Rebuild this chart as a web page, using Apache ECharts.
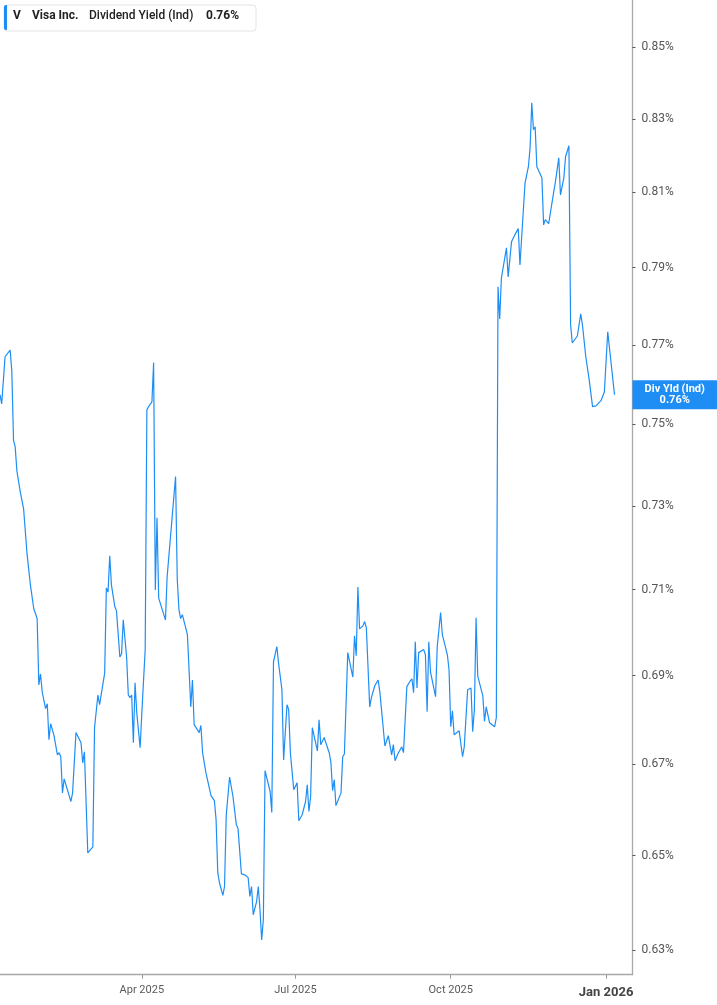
<!DOCTYPE html>
<html>
<head>
<meta charset="utf-8">
<script src="https://cdn.jsdelivr.net/npm/echarts@6/dist/echarts.min.js"></script>
<style>
html,body{margin:0;padding:0;background:#fff;}
#chart{width:717px;height:1005px;}
</style>
</head>
<body>
<div id="chart"></div>
<script>
// ---- data (dividend yield, %) ----
const dates = [
'2025-01-07','2025-01-08','2025-01-10','2025-01-13','2025-01-14','2025-01-15','2025-01-16','2025-01-17','2025-01-19','2025-01-21',
'2025-01-22','2025-01-23','2025-01-25','2025-01-27','2025-01-28','2025-01-29','2025-01-30','2025-01-31','2025-02-01','2025-02-03',
'2025-02-04','2025-02-05','2025-02-06','2025-02-08','2025-02-10','2025-02-11','2025-02-12','2025-02-13','2025-02-14','2025-02-18',
'2025-02-19','2025-02-21','2025-02-24','2025-02-25','2025-02-26','2025-02-28','2025-03-03','2025-03-04','2025-03-05','2025-03-06',
'2025-03-07','2025-03-10','2025-03-11','2025-03-12','2025-03-13','2025-03-14','2025-03-16','2025-03-17','2025-03-18','2025-03-19',
'2025-03-20','2025-03-21','2025-03-23','2025-03-24','2025-03-25','2025-03-26','2025-03-27','2025-03-28','2025-03-29','2025-03-31',
'2025-04-01','2025-04-02','2025-04-03','2025-04-04','2025-04-05','2025-04-07','2025-04-08','2025-04-09','2025-04-10','2025-04-11',
'2025-04-15','2025-04-16','2025-04-21','2025-04-22','2025-04-23','2025-04-24','2025-04-25','2025-04-28','2025-04-29','2025-04-30',
'2025-05-01','2025-05-02','2025-05-05','2025-05-06','2025-05-07','2025-05-09','2025-05-12','2025-05-14','2025-05-15','2025-05-16',
'2025-05-17','2025-05-19','2025-05-20','2025-05-21','2025-05-22','2025-05-23','2025-05-25','2025-05-27','2025-05-28','2025-05-30',
'2025-06-01','2025-06-03','2025-06-04','2025-06-05','2025-06-06','2025-06-08','2025-06-09','2025-06-10','2025-06-11','2025-06-12',
'2025-06-13','2025-06-16','2025-06-17','2025-06-18','2025-06-20','2025-06-21','2025-06-23','2025-06-24','2025-06-26','2025-06-27',
'2025-06-28','2025-06-30','2025-07-01','2025-07-02','2025-07-03','2025-07-05','2025-07-07','2025-07-08','2025-07-09','2025-07-10',
'2025-07-11','2025-07-14','2025-07-15','2025-07-16','2025-07-18','2025-07-21','2025-07-22','2025-07-23','2025-07-24','2025-07-25',
'2025-07-28','2025-07-29','2025-07-30','2025-08-01','2025-08-04','2025-08-05','2025-08-06','2025-08-07','2025-08-08','2025-08-10',
'2025-08-11','2025-08-12','2025-08-14','2025-08-15','2025-08-17','2025-08-19','2025-08-20','2025-08-21','2025-08-23','2025-08-25',
'2025-08-27','2025-08-28','2025-08-29','2025-08-31','2025-09-02','2025-09-03','2025-09-04','2025-09-05','2025-09-07','2025-09-08',
'2025-09-09','2025-09-10','2025-09-11','2025-09-12','2025-09-15','2025-09-16','2025-09-17','2025-09-18','2025-09-19','2025-09-22',
'2025-09-23','2025-09-24','2025-09-25','2025-09-26','2025-09-29','2025-09-30','2025-10-01','2025-10-02','2025-10-03','2025-10-06',
'2025-10-08','2025-10-09','2025-10-11','2025-10-13','2025-10-14','2025-10-15','2025-10-16','2025-10-17','2025-10-20','2025-10-21',
'2025-10-22','2025-10-24','2025-10-27','2025-10-28','2025-10-29','2025-10-30','2025-10-31','2025-11-03','2025-11-04','2025-11-05',
'2025-11-06','2025-11-08','2025-11-10','2025-11-11','2025-11-12','2025-11-14','2025-11-16','2025-11-17','2025-11-18','2025-11-19',
'2025-11-20','2025-11-21','2025-11-24','2025-11-25','2025-11-26','2025-11-28','2025-12-01','2025-12-02','2025-12-03','2025-12-04',
'2025-12-05','2025-12-07','2025-12-08','2025-12-10','2025-12-11','2025-12-12','2025-12-15','2025-12-17','2025-12-18','2025-12-20',
'2025-12-22','2025-12-24','2025-12-26','2025-12-29','2025-12-31','2026-01-02','2026-01-06'
];
const yieldValues = [
0.7574,0.7551,0.7670,0.7687,0.7634,0.7461,0.7444,0.7385,0.7334,0.7292,
0.7292,0.7185,0.7111,0.7055,0.7055,0.7032,0.6879,0.6904,0.6863,0.6825,
0.6836,0.6755,0.6791,0.6764,0.6721,0.6726,0.6717,0.6637,0.6668,0.6618,
0.6637,0.6771,0.6748,0.6703,0.6728,0.6506,0.6519,0.6782,0.6780,0.6856,
0.6834,0.6906,0.7104,0.7094,0.7180,0.7111,0.7060,0.7050,0.7048,0.6943,
0.6950,0.7029,0.6943,0.6856,0.6850,0.6856,0.6748,0.6884,0.6816,0.6737,
0.6814,0.6816,0.6960,0.7536,0.7544,0.7556,0.7655,0.7099,0.7271,0.7080,
0.7029,0.7130,0.7371,0.7123,0.7053,0.7032,0.7041,0.6995,0.6913,0.6829,
0.6890,0.6789,0.6771,0.6787,0.6726,0.6681,0.6631,0.6620,0.6578,0.6463,
0.6442,0.6415,0.6434,0.6587,0.6591,0.6672,0.6629,0.6567,0.6559,0.6461,
0.6459,0.6453,0.6413,0.6434,0.6374,0.6402,0.6434,0.6385,0.6321,0.6364,
0.6686,0.6640,0.6594,0.6932,0.6967,0.6929,0.6868,0.6710,0.6834,0.6823,
0.6726,0.6644,0.6640,0.6659,0.6576,0.6589,0.6618,0.6655,0.6596,0.6629,
0.6782,0.6730,0.6800,0.6744,0.6760,0.6726,0.6705,0.6642,0.6666,0.6609,
0.6637,0.6717,0.6723,0.6953,0.6897,0.6992,0.6946,0.7106,0.7008,0.7015,
0.7025,0.7011,0.6829,0.6850,0.6877,0.6890,0.6863,0.6865,0.6741,0.6764,
0.6721,0.6744,0.6708,0.6726,0.6739,0.6726,0.6723,0.6875,0.6888,0.6893,
0.6861,0.6978,0.6872,0.6953,0.6960,0.6948,0.6818,0.6978,0.6909,0.6852,
0.6967,0.6969,0.7046,0.6995,0.6948,0.6913,0.6784,0.6820,0.6766,0.6775,
0.6717,0.6739,0.6868,0.6872,0.6773,0.6823,0.7034,0.6899,0.6854,0.6796,
0.6829,0.6793,0.6784,0.6805,0.7850,0.7767,0.7873,0.7952,0.7876,0.7881,
0.7968,0.7987,0.8003,0.7907,0.7910,0.8125,0.8169,0.8221,0.8344,0.8270,
0.8278,0.8169,0.8139,0.8013,0.8027,0.8016,0.8101,0.8128,0.8131,0.8193,
0.8093,0.8139,0.8196,0.8226,0.7752,0.7705,0.7723,0.7780,0.7752,0.7670,
0.7612,0.7544,0.7546,0.7559,0.7581,0.7734,0.7574
];
const yTickValues = [0.63,0.65,0.67,0.69,0.71,0.73,0.75,0.77,0.79,0.81,0.83,0.85];
const xTickDates = ['2025-04-01','2025-07-01','2025-10-01','2026-01-01'];
const xTickLabels = ['Apr 2025','Jul 2025','Oct 2025','Jan 2026'];
const yRange = [0.62485, 0.86335];
const xRange = ['2025-01-07 00:00','2026-01-16 16:00'];
const legendTicker = 'V';
const legendCompany = 'Visa Inc.';
const legendMetric = 'Dividend Yield (Ind)';
const endLabelName = 'Div Yld (Ind)';

// ---- helpers ----
function toTs(s){
  const [dp, tp] = s.split(' ');
  const [y,m,d] = dp.split('-').map(Number);
  let hh=0, mm=0;
  if (tp){ [hh,mm] = tp.split(':').map(Number); }
  return new Date(y, m-1, d, hh, mm).getTime();
}
const BLUE = '#1e8ef5';
const xTickTs = xTickDates.map(toTs);
const seriesData = dates.map((d,i)=>[toTs(d), Math.log(yieldValues[i])]);
const lastVal = yieldValues[yieldValues.length-1];
const fmtPct = v => v.toFixed(2) + '%';

const chart = echarts.init(document.getElementById('chart'), null, {renderer:'canvas'});
const gridRight = 84.5;
const option = {
  animation: false,
  backgroundColor: '#fff',
  grid: {left: 0, right: gridRight, top: 0, bottom: 30.3, containLabel: false},
  xAxis: {
    type: 'value',
    min: toTs(xRange[0]),
    max: toTs(xRange[1]),
    axisLine: {show: true, lineStyle: {color: '#a8a8a8', width: 1.3}},
    axisTick: {show: true, customValues: xTickTs, length: 4, lineStyle: {color: '#999', width: 1}},
    axisLabel: {
      show: true,
      customValues: xTickTs,
      margin: 10,
      formatter: function(v){
        let i = -1;
        xTickTs.forEach((t,k)=>{ if (Math.abs(t - v) < 1000) i = k; });
        if (i < 0) return '';
        return i === xTickTs.length-1 ? '{b|' + xTickLabels[i] + '}' : '{n|' + xTickLabels[i] + '}';
      },
      rich: {
        n: {fontFamily: 'Roboto', fontSize: 11, color: '#5a5a5a'},
        b: {fontFamily: 'Roboto', fontSize: 13, fontWeight: 'bold', color: '#444', padding: [2,0,0,0]}
      }
    },
    splitLine: {show: false}
  },
  yAxis: {
    type: 'value',
    position: 'right',
    min: Math.log(yRange[0]),
    max: Math.log(yRange[1]),
    axisLine: {show: true, lineStyle: {color: '#a8a8a8', width: 1.3}},
    axisTick: {show: true, customValues: yTickValues.map(Math.log), length: 3, lineStyle: {color: '#555', width: 1}},
    axisLabel: {
      show: true,
      customValues: yTickValues.map(Math.log),
      margin: 9,
      fontFamily: 'Roboto',
      fontSize: 12,
      color: '#555',
      padding: [3,0,0,0],
      formatter: v => fmtPct(Math.exp(v))
    },
    splitLine: {show: false}
  },
  series: [{
    type: 'line',
    data: seriesData,
    showSymbol: false,
    symbol: 'none',
    lineStyle: {color: BLUE, width: 1.2},
    itemStyle: {color: BLUE},
    emphasis: {disabled: true}
  }],
  graphic: [
    {type:'rect', left: 3.5, top: 4.5, shape:{width: 252, height: 26, r: 3}, style:{fill:'#fff', stroke:'#e4e4e4', lineWidth: 1}, z: 10},
    {type:'rect', left: 4, top: 5, shape:{width: 3, height: 25, r: [2,0,0,2]}, style:{fill: BLUE}, z: 11},
    {type:'text', left: 13, top: 10, style:{text: legendTicker, font: 'bold 12px Roboto', fill:'#222'}, z: 11},
    {type:'text', left: 32, top: 10, style:{text: legendCompany, font: 'bold 12px Roboto', fill:'#222'}, z: 11},
    {type:'text', left: 89, top: 10, style:{text: legendMetric, font: '500 12px Roboto', fill:'#222'}, z: 11},
    {type:'text', left: 206, top: 10, style:{text: fmtPct(lastVal), font: 'bold 12px Roboto', fill:'#222'}, z: 11}
  ]
};
chart.setOption(option);

// end-of-series label on the value axis
const p = chart.convertToPixel({gridIndex: 0}, seriesData[seriesData.length-1]);
const axisX = 717 - gridRight;
chart.setOption({
  graphic: [
    {type:'rect', id:'endBox', x: axisX, y: p[1] - 14.5, shape:{width: 717 - axisX, height: 29}, style:{fill: BLUE}, z: 20},
    {type:'text', id:'endText', x: axisX + (717 - axisX)/2, y: p[1] + 0.5, style:{
      text: endLabelName + '\n' + fmtPct(lastVal), font: 'bold 11px Roboto', fill:'#fff',
      align:'center', verticalAlign:'middle', lineHeight: 11
    }, z: 21}
  ]
});
</script>
</body>
</html>
